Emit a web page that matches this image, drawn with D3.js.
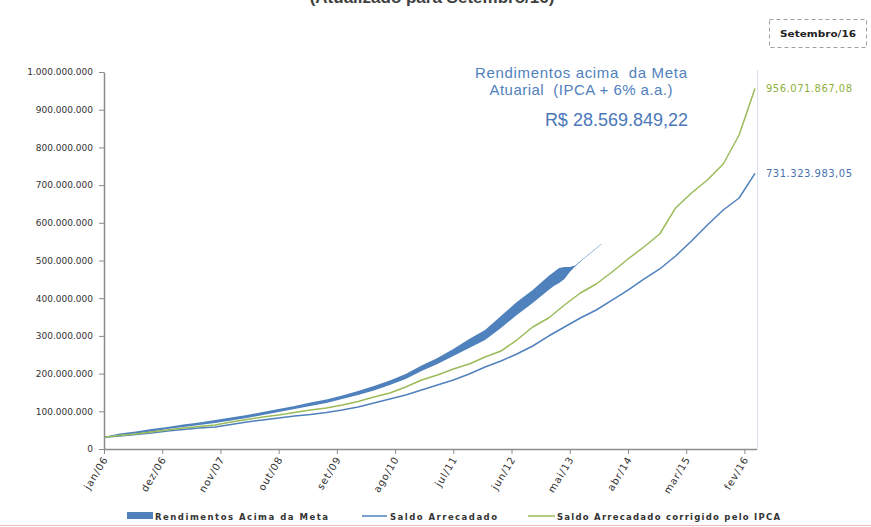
<!DOCTYPE html>
<html>
<head>
<meta charset="utf-8">
<script src="https://cdn.jsdelivr.net/npm/d3@7"></script>
<style>
  body { margin: 0; background: #fff; }
  svg { display: block; }
</style>
</head>
<body>
<svg id="chart" width="871" height="527"></svg>
<script>
// Rótulos do eixo de meses (um a cada 11 meses)
const tickLabels = ["jan/06", "dez/06", "nov/07", "out/08", "set/09", "ago/10",
                    "jul/11", "jun/12", "mai/13", "abr/14", "mar/15", "fev/16"];
const tickMonths = d3.range(0, 122, 11);

// Meses (a partir de jan/06) em que as linhas são amostradas
const lineMonths = d3.range(0, 124, 3);

// Saldo Arrecadado, em milhões de R$
const saldoArrecadado = [31.0, 34.5, 38.5, 42.4, 47.7, 51.7, 55.7, 58.4, 65.0, 71.6,
  76.9, 82.2, 87.5, 91.5, 96.8, 103.4, 111.4, 122.0, 132.6, 143.2,
  156.5, 169.8, 183.0, 198.9, 217.5, 233.4, 252.0, 273.2, 299.7, 323.6,
  347.5, 368.7, 395.2, 421.7, 450.9, 477.5, 511.9, 551.7, 594.2, 634.0,
  665.8, 731.32398305];

// Saldo Arrecadado corrigido pelo IPCA, em milhões de R$
const saldoCorrigido = [31.0, 35.8, 39.8, 45.1, 50.4, 55.7, 59.7, 63.7, 71.6, 78.2,
  84.9, 90.2, 96.8, 103.4, 108.8, 116.7, 126.0, 137.9, 148.5, 164.5,
  183.0, 196.3, 212.2, 225.5, 244.0, 259.9, 289.1, 323.6, 347.5, 382.0,
  413.8, 437.7, 469.5, 504.0, 535.8, 570.3, 639.3, 679.0, 713.5, 756.0,
  832.9, 956.07186708];

// Faixa empilhada: base + rendimentos acima da meta, em milhões de R$
const bandMonths = [...d3.range(0, 84, 3), 84, 85, 86, 87, 88, 89, 91, 94];
const bandBase = [31.0, 37.1, 41.1, 46.4, 53.1, 58.4, 63.7, 69.0, 75.6, 82.2,
  90.2, 98.1, 106.1, 114.1, 122.0, 132.6, 143.2, 155.2, 169.8, 185.7,
  206.9, 225.5, 246.7, 267.9, 289.1, 321.0, 355.4, 387.3,
  421.7, 432.4, 440.3, 450.9, 469.5, 484.1, 508.5, 543.0];
const rendimentosMeta = [1.3, 4.0, 5.3, 6.6, 5.3, 6.6, 6.6, 8.0, 8.0, 8.0,
  8.0, 8.0, 8.0, 9.3, 9.3, 9.3, 10.6, 11.9, 11.9, 13.3,
  14.6, 15.9, 18.6, 23.9, 26.5, 31.8, 34.5, 34.5,
  37.1, 37.1, 39.8, 31.8, 13.3, 2.7, 1.6, 1.6];

const rendimentoTotal = 28569849.22;
const yTicks = d3.range(0, 1e9 + 1, 1e8);
const legendNames = ["Rendimentos Acima da Meta", "Saldo Arrecadado",
                     "Saldo Arrecadado corrigido pelo IPCA"];

const MI = 1e6;
const azul = "#4f81bd", verde = "#9bbb59";

const br = d3.formatLocale({ decimal: ",", thousands: ".", grouping: [3], currency: ["R$ ", ""] });
const fmtInt = br.format(",.0f");
const fmtDec = br.format(",.2f");
const fmtCur = br.format("$,.2f");

const svg = d3.select("#chart");
svg.append("rect").attr("width", 871).attr("height", 527).attr("fill", "#fff");

const x = d3.scaleLinear().domain([0, 123]).range([104, 755]);
const y = d3.scaleLinear().domain([0, 1e9]).range([449, 72]);

// Título (parcialmente fora da área visível, no topo da página)
svg.append("text")
  .attr("x", 432).attr("y", 3).attr("text-anchor", "middle")
  .attr("font-family", "Liberation Sans, Arial, sans-serif")
  .attr("font-size", 17).attr("font-weight", "bold").attr("fill", "#404040")
  .text("(Atualizado para Setembro/16)");

// Caixa com a data de referência
svg.append("rect")
  .attr("x", 769.5).attr("y", 19.5).attr("width", 97).attr("height", 28)
  .attr("fill", "#fff").attr("stroke", "#a0a0a0").attr("stroke-dasharray", "4,3");
svg.append("text")
  .attr("x", 818).attr("y", 37).attr("text-anchor", "middle")
  .attr("font-family", "DejaVu Sans, sans-serif").attr("font-size", 8.5)
  .attr("font-weight", "bold").attr("fill", "#222")
  .attr("textLength", 76).attr("lengthAdjust", "spacingAndGlyphs")
  .text("Setembro/16");

// Borda direita da área de plotagem
svg.append("line")
  .attr("x1", 757.5).attr("x2", 757.5).attr("y1", 70).attr("y2", 449)
  .attr("stroke", "#d9e1ee").attr("stroke-width", 1);

// Faixa dos rendimentos acima da meta
const bandData = bandMonths.map((m, i) => ({ m, lo: bandBase[i] * MI, hi: (bandBase[i] + rendimentosMeta[i]) * MI }));
svg.append("path")
  .datum(bandData)
  .attr("fill", azul)
  .attr("d", d3.area().x(d => x(d.m)).y0(d => y(d.lo)).y1(d => y(d.hi)));

// Linhas dos saldos
const line = d3.line().x(d => x(d.m)).y(d => y(d.v));
const serieArrecadado = lineMonths.map((m, i) => ({ m, v: saldoArrecadado[i] * MI }));
const serieCorrigido = lineMonths.map((m, i) => ({ m, v: saldoCorrigido[i] * MI }));

svg.append("path").datum(serieArrecadado)
  .attr("fill", "none").attr("stroke", azul).attr("stroke-width", 1.5)
  .attr("stroke-linejoin", "round").attr("d", line);
svg.append("path").datum(serieCorrigido)
  .attr("fill", "none").attr("stroke", verde).attr("stroke-width", 1.5)
  .attr("stroke-linejoin", "round").attr("d", line);

// Eixo Y
const yAxis = svg.append("g").attr("transform", "translate(104,0)")
  .call(d3.axisLeft(y).tickValues(yTicks).tickFormat(fmtInt).tickSize(5).tickSizeOuter(0).tickPadding(6));
yAxis.select(".domain").attr("stroke", "#8c8c8c").attr("stroke-width", 1.5);
yAxis.selectAll(".tick line").attr("stroke", "#8c8c8c");
yAxis.selectAll(".tick text")
  .attr("font-family", "DejaVu Sans, sans-serif").attr("font-size", 9).attr("fill", "#333");

// Eixo X
const xAxis = svg.append("g").attr("transform", "translate(0,449)")
  .call(d3.axisBottom(x).tickValues(tickMonths).tickFormat((d, i) => tickLabels[i])
    .tickSize(5).tickSizeOuter(0));
xAxis.select(".domain").attr("stroke", "#8c8c8c").attr("stroke-width", 1.5)
  .attr("d", `M104,0.5H757`);
xAxis.selectAll(".tick line").attr("stroke", "#8c8c8c");
xAxis.selectAll(".tick text")
  .attr("x", 0).attr("y", 0).attr("dy", 0)
  .attr("text-anchor", "end")
  .attr("transform", "translate(4,10) rotate(-59)")
  .attr("font-family", "DejaVu Sans, sans-serif").attr("font-size", 10)
  .attr("letter-spacing", 0.9).attr("fill", "#333");

// Valores finais das séries
const ultimo = (s) => s[s.length - 1];
[[serieCorrigido, "#8fb040"], [serieArrecadado, "#4a72b0"]].forEach(([s, cor]) => {
  const p = ultimo(s);
  svg.append("text")
    .attr("x", 766).attr("y", y(p.v) + 3.5)
    .attr("font-family", "DejaVu Sans, sans-serif").attr("font-size", 10)
    .attr("letter-spacing", 0.5).attr("fill", cor)
    .text(fmtDec(p.v));
});

// Anotação dos rendimentos acima da meta atuarial
const nota = svg.append("g").attr("font-family", "Liberation Sans, Arial, sans-serif").attr("fill", azul);
nota.append("text").attr("x", 581).attr("y", 78).attr("text-anchor", "middle")
  .attr("font-size", 15).attr("textLength", 212).attr("lengthAdjust", "spacing")
  .attr("xml:space", "preserve").style("white-space", "pre")
  .text("Rendimentos acima  da Meta");
nota.append("text").attr("x", 581).attr("y", 95).attr("text-anchor", "middle")
  .attr("font-size", 15).attr("textLength", 183).attr("lengthAdjust", "spacing")
  .style("white-space", "pre")
  .text("Atuarial  (IPCA + 6% a.a.)");
nota.append("text").attr("x", 688).attr("y", 126).attr("text-anchor", "end")
  .attr("font-size", 18).attr("fill", "#4a78b8")
  .text(fmtCur(rendimentoTotal));

// Legenda
const leg = svg.append("g").attr("font-family", "DejaVu Sans, sans-serif")
  .attr("font-size", 8.5).attr("font-weight", "bold").attr("fill", "#333");
leg.append("rect").attr("x", 127).attr("y", 512).attr("width", 26).attr("height", 7).attr("fill", azul);
leg.append("text").attr("x", 155).attr("y", 520).attr("textLength", 173).attr("lengthAdjust", "spacing").text(legendNames[0]);
leg.append("line").attr("x1", 362).attr("x2", 387).attr("y1", 516).attr("y2", 516).attr("stroke", azul).attr("stroke-width", 1.5);
leg.append("text").attr("x", 390).attr("y", 520).attr("textLength", 107).attr("lengthAdjust", "spacing").text(legendNames[1]);
leg.append("line").attr("x1", 528).attr("x2", 555).attr("y1", 516).attr("y2", 516).attr("stroke", verde).attr("stroke-width", 1.5);
leg.append("text").attr("x", 557).attr("y", 520).attr("textLength", 223).attr("lengthAdjust", "spacing").text(legendNames[2]);

// Linha inferior
svg.append("line").attr("x1", 0).attr("x2", 871).attr("y1", 525.5).attr("y2", 525.5)
  .attr("stroke", "#f2b9b9").attr("stroke-width", 1);
</script>
</body>
</html>
